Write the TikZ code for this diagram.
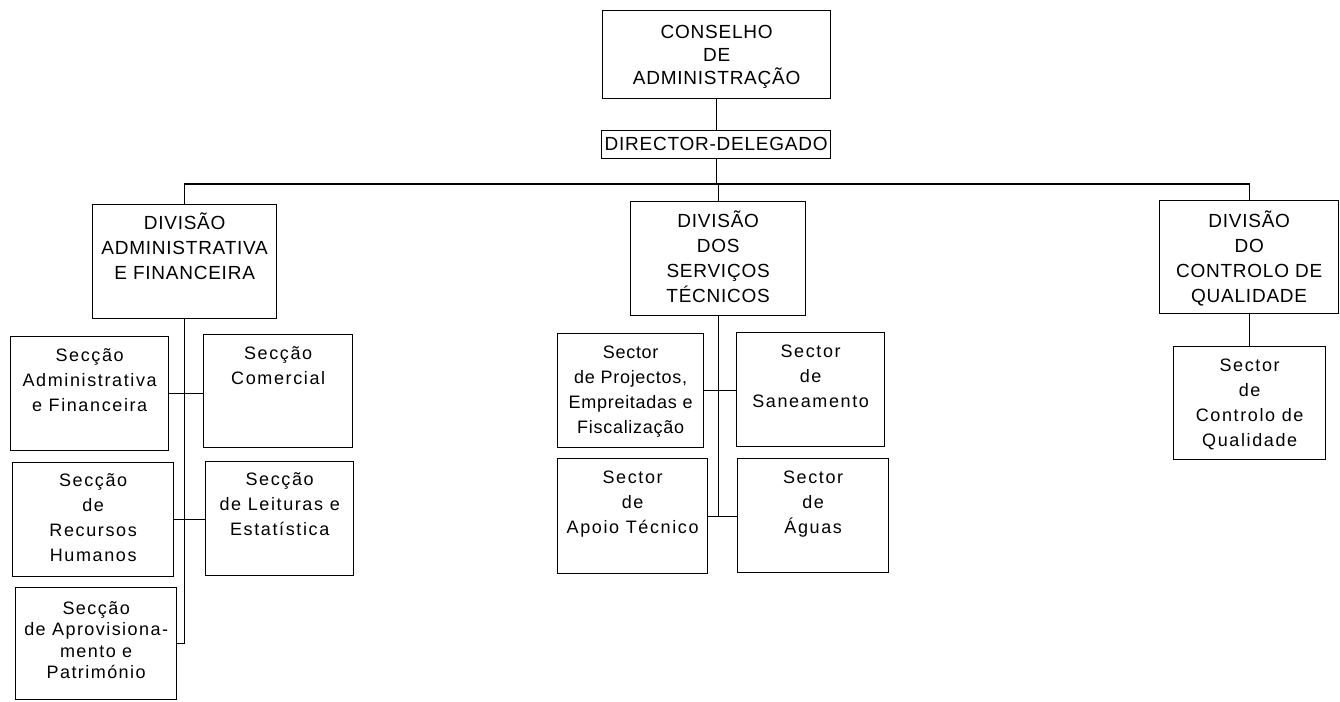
\documentclass[tikz,border=0pt]{standalone}
\usepackage{fontspec}
\setmainfont{Liberation Sans}
\usetikzlibrary{positioning}

\begin{document}
\begin{tikzpicture}[
  x=1pt, y=-1pt,
  box/.style={rectangle, draw, line width=1.3pt, anchor=north west, inner sep=0pt},
  txt/.style={anchor=north, align=center, inner sep=0pt},
  caps/.style={txt, yshift=#1, font=\fontsize{19}{25}\selectfont\addfontfeatures{LetterSpace=4}},
  caps/.default=-10pt,
  lower/.style={txt, yshift=#1, font=\fontsize{18}{25}\selectfont\addfontfeatures{LetterSpace=9}},
  lower/.default=-11pt,
  link/.style={line width=1.3pt},
]
\useasboundingbox (0,0) rectangle (1340,701);

%% --- Top ---
\node[box, minimum width=228, minimum height=88,
      label={[caps=-15pt, font=\fontsize{19}{23}\selectfont\addfontfeatures{LetterSpace=4}]north:{CONSELHO\\DE\\ADMINISTRAÇÃO}}] (cons) at (602,10) {};
\node[box, minimum width=229, minimum height=28,
      label={[caps=-7pt]north:{DIRECTOR-DELEGADO}}] (dd) at (601,130) {};

%% --- Divisions ---
\node[box, minimum width=184, minimum height=114,
      label={[caps=-9pt]north:{DIVISÃO\\ADMINISTRATIVA\\E FINANCEIRA}}] (div1) at (92,204) {};
\node[box, minimum width=175, minimum height=114,
      label={[caps=-10pt]north:{DIVISÃO\\DOS\\SERVIÇOS\\TÉCNICOS}}] (div2) at (630,201) {};
\node[box, minimum width=179, minimum height=113,
      label={[caps=-11pt]north:{DIVISÃO\\DO\\CONTROLO DE\\QUALIDADE}}] (div3) at (1159,200) {};

%% --- Administrative sections ---
\node[box, minimum width=158, minimum height=114,
      label={[lower=-12pt]north:{Secção\\Administrativa\\e Financeira}}] (sadm) at (10,336) {};
\node[box, minimum width=149, minimum height=113,
      label={[lower=-12pt]north:{Secção\\Comercial}}] (scom) at (203,334) {};
\node[box, minimum width=161, minimum height=114,
      label={[lower]north:{Secção\\de\\Recursos\\Humanos}}] (srh) at (12,462) {};
\node[box, minimum width=148, minimum height=114,
      label={[lower]north:{Secção\\de Leituras e\\Estatística}}] (sle) at (205,461) {};
\node[box, minimum width=161, minimum height=112,
      label={[lower=-14pt, font=\fontsize{18}{21.5}\selectfont\addfontfeatures{LetterSpace=8}]north:{Secção\\de Aprovisiona-\\mento e\\Património}}] (sapr) at (15,587) {};

%% --- Technical sectors ---
\node[box, minimum width=146, minimum height=114,
      label={[lower=-13pt, font=\fontsize{18}{25}\selectfont\addfontfeatures{LetterSpace=4}]north:{Sector\\de Projectos,\\Empreitadas e\\Fiscalização}}] (tproj) at (557,333) {};
\node[box, minimum width=148, minimum height=114,
      label={[lower=-13pt]north:{Sector\\de\\Saneamento}}] (tsan) at (736,332) {};
\node[box, minimum width=150, minimum height=115,
      label={[lower=-13pt]north:{Sector\\de\\Apoio Técnico}}] (tapo) at (557,458) {};
\node[box, minimum width=151, minimum height=114,
      label={[lower=-13pt]north:{Sector\\de\\Águas}}] (tagu) at (737,458) {};

%% --- Quality sector ---
\node[box, minimum width=152, minimum height=113,
      label={[lower=-13pt]north:{Sector\\de\\Controlo de\\Qualidade}}] (cqual) at (1173,346) {};

%% --- Connectors ---
\coordinate (bus) at (0,184);
\draw[link] (dd.north |- cons.south) -- (dd.north);
\draw[link] (dd.south) -- (dd.south |- bus) -| (div1.north);
\draw[link] (dd.south |- bus) -| (div2.north);
\draw[link] (dd.south |- bus) -| (div3.north);

\draw[link] (div1.south) |- (sapr.east);
\draw[link] (sadm.east) -- (sadm.east -| scom.west);
\draw[link] (srh.east) -- (srh.east -| sle.west);

\draw[link] (div2.south) |- (tapo.east);
\draw[link] (tproj.east) -- (tproj.east -| tsan.west);
\draw[link] (tapo.east) -- (tapo.east -| tagu.west);

\draw[link] (div3.south) -- (div3.south |- cqual.north);

\end{tikzpicture}
\end{document}
